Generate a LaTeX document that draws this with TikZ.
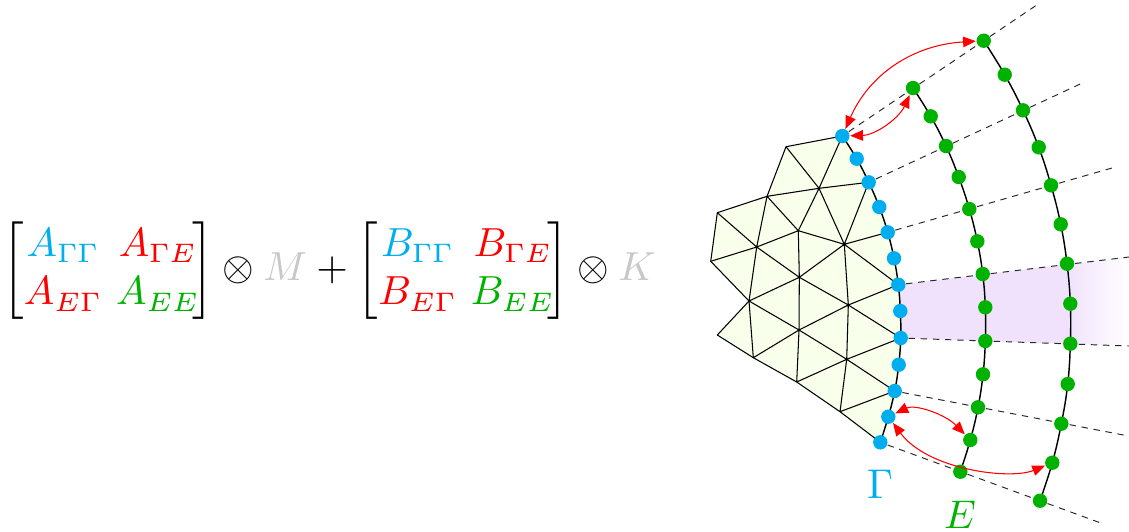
\RequirePackage{fix-cm}
\documentclass[tikz,border=0pt]{standalone}
\usepackage{amsmath}
\usetikzlibrary{arrows.meta,backgrounds}
\DeclareMathSizes{10}{10}{6.6}{5}
\definecolor{gbl}{RGB}{0,174,239}
\definecolor{ggr}{RGB}{0,178,0}
\definecolor{gry}{RGB}{200,200,200}
\definecolor{msh}{RGB}{248,255,235}
\definecolor{pur}{RGB}{240,226,252}
\tikzset{
  bnode/.style={circle,fill=gbl,inner sep=0pt,minimum size=4.5pt},
  gnode/.style={circle,fill=ggr,inner sep=0pt,minimum size=4.5pt},
  meshline/.style={black,line width=0.33pt,line join=round},
  curveline/.style={black,line width=0.45pt},
  ray/.style={black!85,line width=0.3pt,dash pattern=on 2pt off 1.8pt},
  link/.style={red,line width=0.33pt,{Triangle[length=4pt,width=3.3pt]}-{Triangle[length=4pt,width=3.3pt]}}
}
\begin{document}
\begin{tikzpicture}[x=0.3125pt,y=-0.3125pt]
\useasboundingbox (0,0) rectangle (1129,531);
% blue
\foreach \n/\x/\y in {1/842.3/136,2/856.7/158.7,3/868.7/182.3,4/879.3/207,5/887.7/232.3,6/894/258.3,7/898.3/284.7,8/900.3/311,9/900.7/338,10/898.7/364.7,11/894.7/391,12/888.3/416.7,13/880.3/442.3}
  \node[bnode] (b\n) at (\x,\y) {};
% green inner
\foreach \n/\x/\y in {1/913/88,2/930.7/116.3,3/946/146,4/958.7/177,5/969.3/209,6/977.3/241.3,7/982.7/274,8/985.3/307.3,9/985.3/341,10/983/374.3,11/978/407.3,12/970.3/440,13/960.3/471.7}
  \node[gnode] (g\n) at (\x,\y) {};
% green outer
\foreach \n/\x/\y in {1/983.7/40.7,2/1004.7/74.7,3/1023/110.3,4/1038.7/147.3,5/1051/185.3,6/1060.7/224.3,7/1067/263.7,8/1070.3/303.7,9/1070.3/343.7,10/1067.7/384,11/1061.3/423.7,12/1052.3/462.7,13/1040/500.7}
  \node[gnode] (h\n) at (\x,\y) {};
% mesh vertices
\foreach \n/\x/\y in {A/786/146.7,B/819/188.3,C/767/196.3,D/717.3/212.7,E/798.3/230.7,F/844.3/244.3,G/756.7/247,H/710.7/261.3,I/799.3/277.3,J/749/301,K/848.3/305,L/799/330,M/717.3/335,N/846.7/359.3,O/753.3/357.7,P/796.7/382,Q/840/411.7}
  \coordinate (m\n) at (\x,\y);
% ray ends
\coordinate (r1) at (1036.7,5);
\coordinate (r3) at (1081.7,83.3);
\coordinate (r5) at (1113,167.7);
\coordinate (r7) at (1129,257);
\coordinate (r9) at (1129,346);
\coordinate (r11) at (1125,435.3);
\coordinate (r13) at (1100,522.7);
\coordinate (ft) at (1067,264.4);
\coordinate (fb) at (1067,343.8);
\begin{scope}[on background layer]
  \fill[pur] (b7.center) -- (b8.center) -- (b9.center) -- (fb) -- (ft) -- cycle;
  \shade[left color=pur,right color=white,shading angle=90,draw=none] (1066.5,264.4) -- (r7) -- (r9) -- (1066.5,343.8) -- cycle;
  \fill[msh] plot[smooth,tension=0.7] coordinates {(b1.center) (b2.center) (b3.center) (b4.center) (b5.center) (b6.center) (b7.center) (b8.center) (b9.center) (b10.center) (b11.center) (b12.center) (b13.center)}
     -- (mQ) -- (mP) -- (mO) -- (mM) -- (mJ) -- (mH) -- (mD) -- (mC) -- (mA) -- cycle;
  \draw[meshline] (b13.center) -- (mQ) -- (mP) -- (mO) -- (mM) -- (mJ) -- (mH) -- (mD) -- (mC) -- (mA) -- (b1.center);
  \draw[meshline] (mA) -- (mB) (b1.center) -- (mB) (mC) -- (mB) (mB) -- (b3.center) (mB) -- (mE) (mB) -- (mF)
    (b3.center) -- (mF) (mC) -- (mE) (mC) -- (mG) (mD) -- (mG) (mH) -- (mG) (mG) -- (mE) (mE) -- (mF) (mF) -- (b5.center)
    (mE) -- (mI) (mG) -- (mI) (mF) -- (mI) (mF) -- (b7.center) (mF) -- (mK) (mG) -- (mJ) (mI) -- (mJ) (mI) -- (mL) (mI) -- (mK)
    (mK) -- (b7.center) (mK) -- (b9.center) (mK) -- (mL) (mJ) -- (mL) (mJ) -- (mO) (mL) -- (mO) (mL) -- (mP) (mL) -- (mN)
    (mK) -- (mN) (mN) -- (b9.center) (mN) -- (b11.center) (mN) -- (mP) (mN) -- (mQ) (mQ) -- (b11.center);
  \draw[curveline] plot[smooth,tension=0.7] coordinates {(b1.center) (b2.center) (b3.center) (b4.center) (b5.center) (b6.center) (b7.center) (b8.center) (b9.center) (b10.center) (b11.center) (b12.center) (b13.center)};
  \draw[curveline] plot[smooth,tension=0.7] coordinates {(g1.center) (g2.center) (g3.center) (g4.center) (g5.center) (g6.center) (g7.center) (g8.center) (g9.center) (g10.center) (g11.center) (g12.center) (g13.center)};
  \draw[curveline] plot[smooth,tension=0.7] coordinates {(h1.center) (h2.center) (h3.center) (h4.center) (h5.center) (h6.center) (h7.center) (h8.center) (h9.center) (h10.center) (h11.center) (h12.center) (h13.center)};
  \draw[ray] (b1) -- (r1);
  \draw[ray] (b3) -- (r3);
  \draw[ray] (b5) -- (r5);
  \draw[ray] (b7) -- (r7);
  \draw[ray] (b9) -- (r9);
  \draw[ray] (b11) -- (r11);
  \draw[ray] (b13) -- (r13);
\end{scope}
% arrows
\draw[link] (b1) .. controls (869,75) and (912,45) .. (h1);
\draw[link] (b1) .. controls (876,135) and (899,118) .. (g1);
\draw[link] (b12) .. controls (915,404) and (945,414) .. (g12);
\draw[link] (b12) .. controls (928,470) and (1010,480) .. (h12);
% labels
\setlength{\arraycolsep}{1.7pt}
\node[inner sep=0pt,anchor=west,scale=1.27] (eq) at (1.7,270.8) {$\begin{bmatrix}\color{gbl}A_{\Gamma\Gamma} & \color{red}A_{\Gamma E}\mkern-3.3mu\\ \color{red}A_{E\Gamma} & \color{ggr}A_{EE}\mkern-3.3mu\end{bmatrix}\otimes{\color{gry}M}+\begin{bmatrix}\color{gbl}B_{\Gamma\Gamma} & \color{red}B_{\Gamma E}\mkern-3.3mu\\ \color{red}B_{E\Gamma} & \color{ggr}B_{EE}\mkern-3.3mu\end{bmatrix}\otimes{\color{gry}K}$};
\node[inner sep=0pt,text=gbl,scale=1.3] (gam) at (880,484.5) {$\Gamma$};
\node[inner sep=0pt,text=ggr,scale=1.25] (ell) at (960,515) {$E$};
\end{tikzpicture}
\end{document}
